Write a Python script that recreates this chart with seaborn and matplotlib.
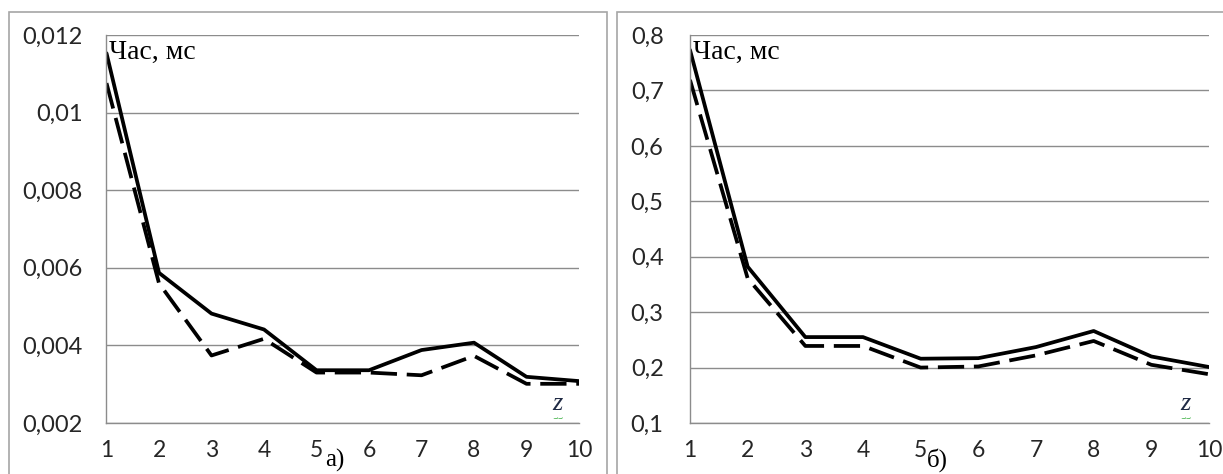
import pandas as pd
import seaborn as sns
import matplotlib.pyplot as plt
from matplotlib.patches import Rectangle

# z values on the x axis
z_vals = [1, 2, 3, 4, 5, 6, 7, 8, 9, 10]

# panel a) time, ms
a_solid = [0.01153, 0.00587, 0.00482, 0.00441, 0.00336, 0.00336, 0.00388, 0.00407, 0.00319, 0.00308]
a_dashed = [0.01076, 0.00560, 0.00374, 0.00417, 0.00330, 0.00330, 0.00323, 0.00373, 0.00301, 0.00301]
a_ticks = [0.002, 0.004, 0.006, 0.008, 0.01, 0.012]
a_ticklabels = ["0,002", "0,004", "0,006", "0,008", "0,01", "0,012"]

# panel б) time, ms
b_solid = [0.773, 0.382, 0.255, 0.255, 0.216, 0.217, 0.237, 0.266, 0.220, 0.201]
b_dashed = [0.719, 0.361, 0.239, 0.239, 0.200, 0.202, 0.222, 0.248, 0.205, 0.188]
b_ticks = [0.1, 0.2, 0.3, 0.4, 0.5, 0.6, 0.7, 0.8]
b_ticklabels = ["0,1", "0,2", "0,3", "0,4", "0,5", "0,6", "0,7", "0,8"]

W, H = 1223, 474
sns.set_theme(style="white")
plt.rcParams['font.family'] = ['Lato', 'DejaVu Sans']

fig = plt.figure(figsize=(W / 100, H / 100), dpi=100)
fig.patch.set_facecolor("white")

# panel frames
fig.patches.append(Rectangle((9 / W, -0.1), (607 - 9) / W, 1.1 - 12 / H,
                             transform=fig.transFigure, fill=False,
                             edgecolor="#a6a6a6", lw=1.2))
fig.patches.append(Rectangle((617 / W, -0.1), 0.6, 1.1 - 12 / H,
                             transform=fig.transFigure, fill=False,
                             edgecolor="#a6a6a6", lw=1.2))


def make_panel(rect, solid, dashed, ticks, ticklabels, ylab_pad):
    ax = fig.add_axes(rect)
    df = pd.DataFrame({
        "z": z_vals * 2,
        "t": solid + dashed,
        "kind": ["solid"] * len(z_vals) + ["dashed"] * len(z_vals),
    })
    sns.lineplot(data=df, x="z", y="t", hue="kind", style="kind",
                 palette={"solid": "black", "dashed": "black"},
                 dashes={"solid": "", "dashed": (7.0, 2.6)},
                 linewidth=2.7, legend=False, ax=ax)
    ax.set_xlim(1, 10)
    ax.set_ylim(ticks[0], ticks[-1])
    ax.set_xticks(z_vals)
    ax.set_xticklabels([str(v) for v in z_vals])
    ax.set_yticks(ticks)
    ax.set_yticklabels(ticklabels)
    ax.set_xlabel("")
    ax.set_ylabel("")
    ax.grid(axis="y", color="#8c8c8c", lw=1.0)
    ax.set_axisbelow(True)
    for s in ["top", "right"]:
        ax.spines[s].set_visible(False)
    for s in ["left", "bottom"]:
        ax.spines[s].set_color("#8c8c8c")
        ax.spines[s].set_linewidth(1.0)
    ax.tick_params(axis="x", direction="in", length=5, color="#8c8c8c",
                   pad=12, labelsize=16.5, labelcolor="#262626")
    ax.tick_params(axis="y", length=0, pad=ylab_pad, labelsize=17,
                   labelcolor="#262626")
    ax.text(0.005, 0.955, "Час, мс", transform=ax.transAxes,
            family="Liberation Serif", fontsize=20, va="center", ha="left",
            color="black")
    ax.text(0.955, 0.05, "z", transform=ax.transAxes, family="Liberation Serif",
            style="italic", fontsize=19, va="center", ha="center", color="#1f2a44")
    ax.text(0.955, 0.012, "~~", transform=ax.transAxes, fontsize=7,
            va="center", ha="center", color="#3cb043")
    return ax


make_panel([106.5 / W, (H - 423) / H, (579 - 106.5) / W, (423 - 35) / H],
           a_solid, a_dashed, a_ticks, a_ticklabels, 17)
make_panel([690 / W, (H - 423) / H, (1209 - 690) / W, (423 - 35) / H],
           b_solid, b_dashed, b_ticks, b_ticklabels, 19)

fig.text(335 / W, 1.5 / H, "а)", family="Liberation Serif", fontsize=18,
         ha="center", va="bottom", color="black")
fig.text(937 / W, 1.5 / H, "б)", family="Liberation Serif", fontsize=18,
         ha="center", va="bottom", color="black")

fig.savefig("out.png", dpi=100)
